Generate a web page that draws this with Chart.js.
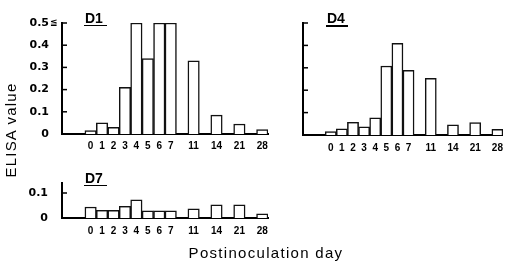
<!DOCTYPE html>
<html>
<head>
<meta charset="utf-8">
<script src="https://cdn.jsdelivr.net/npm/chart.js@4/dist/chart.umd.min.js"></script>
<style>
  html, body { margin: 0; padding: 0; background: #fff; }
  body { width: 510px; height: 263px; position: relative; overflow: hidden; font-family: "Liberation Sans", Arial, sans-serif; color: #000; }
  .cv { position: absolute; }
  .ttl { position: absolute; font-size: 14px; line-height: 14px; font-weight: bold; }
  .ul { position: absolute; height: 1.5px; background: #000; }
  #ylab { position: absolute; left: 10px; top: 130px; transform: translate(-50%, -50%) rotate(-90deg); font-size: 15px; letter-spacing: 1.2px; white-space: nowrap; }
  #xlab { position: absolute; left: 266px; top: 252px; transform: translate(-50%, -50%); font-size: 15px; letter-spacing: 1.3px; white-space: nowrap; }
</style>
</head>
<body>
<div class="cv" style="left:0;top:0;width:280px;height:160px;"><canvas id="c1"></canvas></div>
<div class="cv" style="left:250px;top:0;width:260px;height:160px;"><canvas id="c4"></canvas></div>
<div class="cv" style="left:0;top:160px;width:280px;height:85px;"><canvas id="c7"></canvas></div>

<div class="ttl" style="left:85px;top:10.5px;">D1</div>
<div class="ul" style="left:84px;top:24.5px;width:23px;"></div>
<div class="ttl" style="left:327px;top:10.5px;">D4</div>
<div class="ul" style="left:326px;top:25px;width:22px;"></div>
<div class="ttl" style="left:85px;top:170.5px;">D7</div>
<div class="ul" style="left:84px;top:184.5px;width:23px;"></div>

<div id="ylab">ELISA value</div>
<div id="xlab">Postinoculation day</div>

<script>
// ---- data ----
const days = ['0','1','2','3','4','5','6','7','11','14','21','28'];
// slot layout along the x axis (blank slots are gaps)
const xSlots = ['', '', '0','1','2','3','4','5','6','7','','11','','14','','21','','28'];
const d1Values = [0.015, 0.05, 0.03, 0.21, 0.5, 0.34, 0.5, 0.5, 0.33, 0.085, 0.045, 0.02];
const d4Values = [0.015, 0.027, 0.057, 0.036, 0.077, 0.308, 0.409, 0.289, 0.253, 0.045, 0.055, 0.025];
const d7Values = [0.044, 0.031, 0.031, 0.047, 0.073, 0.029, 0.029, 0.029, 0.037, 0.053, 0.053, 0.017];
const yTicksTop = [0, 0.1, 0.2, 0.3, 0.4, 0.5];
const yTickLabelsTop = ['0', '0.1', '0.2', '0.3', '0.4', '0.5'];
const yTicksD7 = [0, 0.1];
const yTickLabelsD7 = ['0', '0.1'];

function toSlots(values) {
  return xSlots.map(s => {
    if (s === '') return null;
    const i = days.indexOf(s);
    return i >= 0 ? values[i] : null;
  });
}

const innerTicks = {
  id: 'innerTicks',
  afterDraw(chart, args, opts) {
    const y = chart.scales.y;
    const ctx = chart.ctx;
    const left = chart.chartArea.left;
    ctx.save();
    ctx.strokeStyle = '#000';
    ctx.lineWidth = 1.5;
    (opts.values || []).forEach(v => {
      const py = y.getPixelForValue(v);
      ctx.beginPath();
      ctx.moveTo(left, py);
      ctx.lineTo(left + 5, py);
      ctx.stroke();
    });
    if (opts.suffix) {
      ctx.fillStyle = '#000';
      ctx.font = 'bold 9px "DejaVu Sans", sans-serif';
      ctx.textAlign = 'left';
      ctx.textBaseline = 'middle';
      ctx.fillText(opts.suffix.text, left - opts.suffix.dx, y.getPixelForValue(opts.suffix.value));
    }
    ctx.restore();
  }
};

function makeChart(id, values, cfg) {
  return new Chart(document.getElementById(id), {
    type: 'bar',
    data: {
      labels: xSlots,
      datasets: [{
        data: toSlots(values),
        backgroundColor: '#fff',
        borderColor: '#111',
        borderWidth: 1.5,
        barPercentage: 1,
        categoryPercentage: 1
      }]
    },
    options: {
      responsive: true,
      maintainAspectRatio: false,
      animation: false,
      events: [],
      layout: { padding: { left: 0, top: cfg.top, right: cfg.right, bottom: 0 } },
      plugins: {
        legend: { display: false },
        tooltip: { enabled: false },
        innerTicks: { values: cfg.tickMarks, suffix: cfg.suffix }
      },
      scales: {
        x: {
          type: 'category',
          offset: true,
          grid: { display: false, drawTicks: false },
          border: { display: true, color: '#000', width: 2 },
          ticks: {
            autoSkip: false, maxRotation: 0, minRotation: 0,
            color: '#000', padding: cfg.xPad,
            font: { family: '"Liberation Sans", Arial, sans-serif', size: 10, weight: 'bold' }
          },
          afterFit(s) { s.height = cfg.xHeight; }
        },
        y: {
          min: 0, max: cfg.max,
          grid: { display: false, drawTicks: false },
          border: { display: true, color: '#000', width: 2 },
          afterBuildTicks(s) { s.ticks = cfg.yTicks.map(v => ({ value: v })); },
          ticks: {
            display: cfg.showYLabels,
            color: '#000', padding: cfg.yPad,
            font: { family: '"DejaVu Sans", sans-serif', size: 11, weight: 'bold' },
            callback(v) {
              const i = cfg.yTicks.indexOf(v);
              return i >= 0 ? cfg.yLabels[i] : '';
            }
          },
          afterFit(s) { s.width = cfg.yWidth; }
        }
      }
    },
    plugins: [innerTicks]
  });
}

makeChart('c1', d1Values, {
  top: 23, right: 12, xHeight: 26, yWidth: 62, max: 0.5, xPad: 6, yPad: 13,
  yTicks: yTicksTop, yLabels: yTickLabelsTop, showYLabels: true,
  tickMarks: [0.1, 0.2, 0.3, 0.4, 0.5],
  suffix: { text: '≦', value: 0.5, dx: 12 }
});
makeChart('c4', d4Values, {
  top: 23, right: 1, xHeight: 25, yWidth: 53, max: 0.5, xPad: 7, yPad: 13,
  yTicks: yTicksTop, yLabels: yTickLabelsTop, showYLabels: false,
  tickMarks: [0.1, 0.2, 0.3, 0.4, 0.5]
});
makeChart('c7', d7Values, {
  top: 23, right: 12, xHeight: 27, yWidth: 62, max: 0.14, xPad: 7, yPad: 14,
  yTicks: yTicksD7, yLabels: yTickLabelsD7, showYLabels: true,
  tickMarks: [0.1]
});
</script>
</body>
</html>
